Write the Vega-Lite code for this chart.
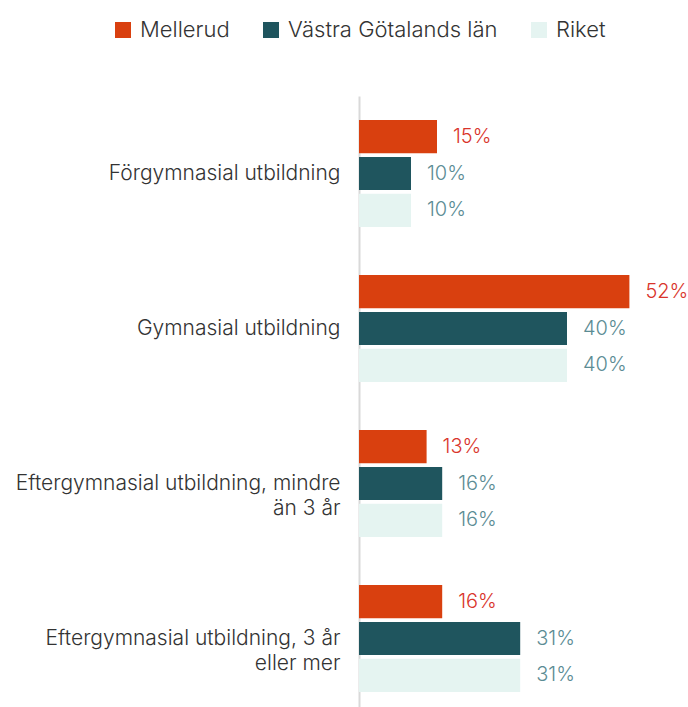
{
  "$schema": "https://vega.github.io/schema/vega-lite/v6.json",
  "autosize": "none",
  "width": 329,
  "height": 620,
  "padding": {"left": 359, "top": 96, "right": 0, "bottom": 0},
  "background": "white",
  "config": {
    "view": {"stroke": null},
    "font": "Inter",
    "text": {"font": "Inter"}
  },
  "data": {
    "values": [
      {"kategori": "Förgymnasial utbildning", "region": "Mellerud", "varde": 15},
      {"kategori": "Förgymnasial utbildning", "region": "Västra Götalands län", "varde": 10},
      {"kategori": "Förgymnasial utbildning", "region": "Riket", "varde": 10},
      {"kategori": "Gymnasial utbildning", "region": "Mellerud", "varde": 52},
      {"kategori": "Gymnasial utbildning", "region": "Västra Götalands län", "varde": 40},
      {"kategori": "Gymnasial utbildning", "region": "Riket", "varde": 40},
      {"kategori": "Eftergymnasial utbildning, mindre än 3 år", "region": "Mellerud", "varde": 13},
      {"kategori": "Eftergymnasial utbildning, mindre än 3 år", "region": "Västra Götalands län", "varde": 16},
      {"kategori": "Eftergymnasial utbildning, mindre än 3 år", "region": "Riket", "varde": 16},
      {"kategori": "Eftergymnasial utbildning, 3 år eller mer", "region": "Mellerud", "varde": 16},
      {"kategori": "Eftergymnasial utbildning, 3 år eller mer", "region": "Västra Götalands län", "varde": 31},
      {"kategori": "Eftergymnasial utbildning, 3 år eller mer", "region": "Riket", "varde": 31}
    ]
  },
  "encoding": {
    "y": {
      "field": "kategori",
      "type": "nominal",
      "sort": null,
      "scale": {"paddingInner": 0.31, "paddingOuter": 0.155},
      "axis": {
        "title": null,
        "ticks": false,
        "domainColor": "#d9d9d9",
        "domainWidth": 2,
        "labelFont": "Inter",
        "labelFontWeight": 300,
        "labelFontSize": 21,
        "labelColor": "#333333",
        "labelPadding": 19,
        "labelLineHeight": 25,
        "labelLimit": 400,
        "labelExpr": "datum.label == 'Eftergymnasial utbildning, mindre än 3 år' ? ['Eftergymnasial utbildning, mindre', 'än 3 år'] : datum.label == 'Eftergymnasial utbildning, 3 år eller mer' ? ['Eftergymnasial utbildning, 3 år', 'eller mer'] : datum.label"
      }
    },
    "yOffset": {
      "field": "region",
      "type": "nominal",
      "sort": ["Mellerud", "Västra Götalands län", "Riket"],
      "scale": {"paddingInner": 0.1}
    },
    "x": {
      "field": "varde",
      "type": "quantitative",
      "scale": {"domain": [0, 63.27], "nice": false},
      "axis": null
    }
  },
  "layer": [
    {
      "mark": {"type": "bar"},
      "encoding": {
        "color": {
          "field": "region",
          "type": "nominal",
          "sort": ["Mellerud", "Västra Götalands län", "Riket"],
          "scale": {
            "domain": ["Mellerud", "Västra Götalands län", "Riket"],
            "range": ["#D9400F", "#1F555E", "#E5F4F1"]
          },
          "legend": {
            "title": null,
            "orient": "none",
            "direction": "horizontal",
            "legendX": -247,
            "legendY": -77,
            "symbolType": "square",
            "symbolSize": 256,
            "symbolStrokeWidth": 0,
            "labelFont": "Inter",
            "labelFontWeight": 300,
            "labelFontSize": 22,
            "labelColor": "#333333",
            "labelOffset": 6,
            "labelLimit": 400,
            "columnPadding": 30
          }
        }
      }
    },
    {
      "transform": [{"calculate": "datum.varde + '%'", "as": "etikett"}],
      "mark": {"type": "text", "align": "left", "baseline": "middle", "dx": 16, "fontSize": 20, "font": "Inter", "fontWeight": 300},
      "encoding": {
        "text": {"field": "etikett", "type": "nominal"},
        "color": {
          "condition": {"test": "datum.region == 'Mellerud'", "value": "#D9342B"},
          "value": "#5B8C94"
        }
      }
    }
  ]
}
